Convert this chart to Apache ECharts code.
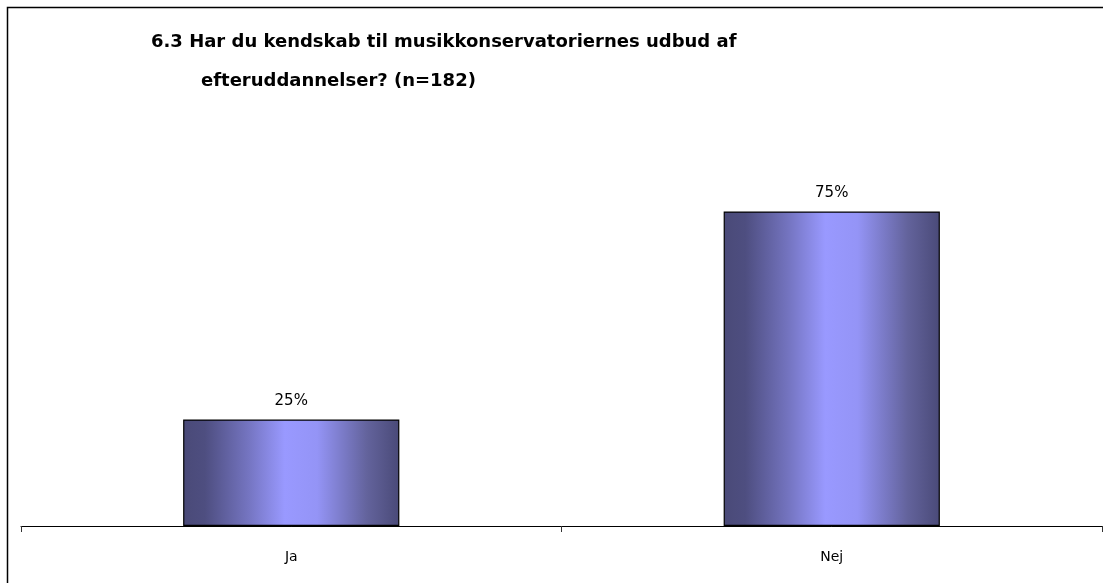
<!DOCTYPE html>
<html>
<head>
<meta charset="utf-8">
<script src="https://cdn.jsdelivr.net/npm/echarts@6/dist/echarts.min.js"></script>
<style>
    html, body { margin: 0; padding: 0; background: #fff; }
    #chart { width: 1103px; height: 583px; }
</style>
</head>
<body>
<div id="chart"></div>
<script>
// data
const categories = ["Ja", "Nej"];
const shares = [25.3, 74.7];
const titleLines = [
    "6.3 Har du kendskab til musikkonservatoriernes udbud af",
    "efteruddannelser? (n=182)"
];

let chart = echarts.init(document.getElementById("chart"));

const barColor = new echarts.graphic.LinearGradient(0, 0, 1, 0, [
    { offset: 0, color: "#4a4a78" },
    { offset: 0.1, color: "#4e4e80" },
    { offset: 0.3, color: "#7474c0" },
    { offset: 0.47, color: "#9999ff" },
    { offset: 0.62, color: "#9494f6" },
    { offset: 0.85, color: "#63639c" },
    { offset: 1, color: "#4a4a78" },
]);

const option = {
    animation: false,
    backgroundColor: "#fff",
    title: [
        {
            text: titleLines[0],
            left: 146,
            top: 28,
            textStyle: { fontFamily: "DejaVu Sans", fontSize: 18, fontWeight: "bold", color: "#000" },
        },
        {
            text: titleLines[1],
            left: 196,
            top: 67,
            textStyle: { fontFamily: "DejaVu Sans", fontSize: 18, fontWeight: "bold", color: "#000" },
        },
    ],
    graphic: [
        {
            type: "polyline",
            shape: { points: [[7.5, 600], [7.5, 7.5], [1110, 7.5]] },
            style: { stroke: "#000", lineWidth: 1.5, fill: null },
        },
    ],
    grid: { left: 21, right: 1, top: 105, bottom: 57 },
    xAxis: {
        type: "category",
        data: categories,
        axisLine: { show: true, lineStyle: { color: "#000", width: 1 } },
        axisTick: { show: true, alignWithLabel: false, length: 6, lineStyle: { color: "#333", width: 1 } },
        axisLabel: {
            margin: 24,
            fontFamily: "DejaVu Sans",
            fontSize: 14,
            color: "#000",
        },
    },
    yAxis: {
        type: "value",
        min: 0,
        max: 100,
        show: false,
        splitLine: { show: false },
    },
    series: [
        {
            type: "bar",
            data: shares,
            barWidth: "40%",
            itemStyle: { color: barColor, borderColor: "#000", borderWidth: 1.2 },
            label: {
                show: true,
                position: "top",
                distance: 11,
                fontFamily: "DejaVu Sans",
                fontSize: 15,
                color: "#000",
                formatter: (p) => Math.round(p.value) + "%",
            },
        },
    ],
};

chart.setOption(option);
</script>
</body>
</html>
